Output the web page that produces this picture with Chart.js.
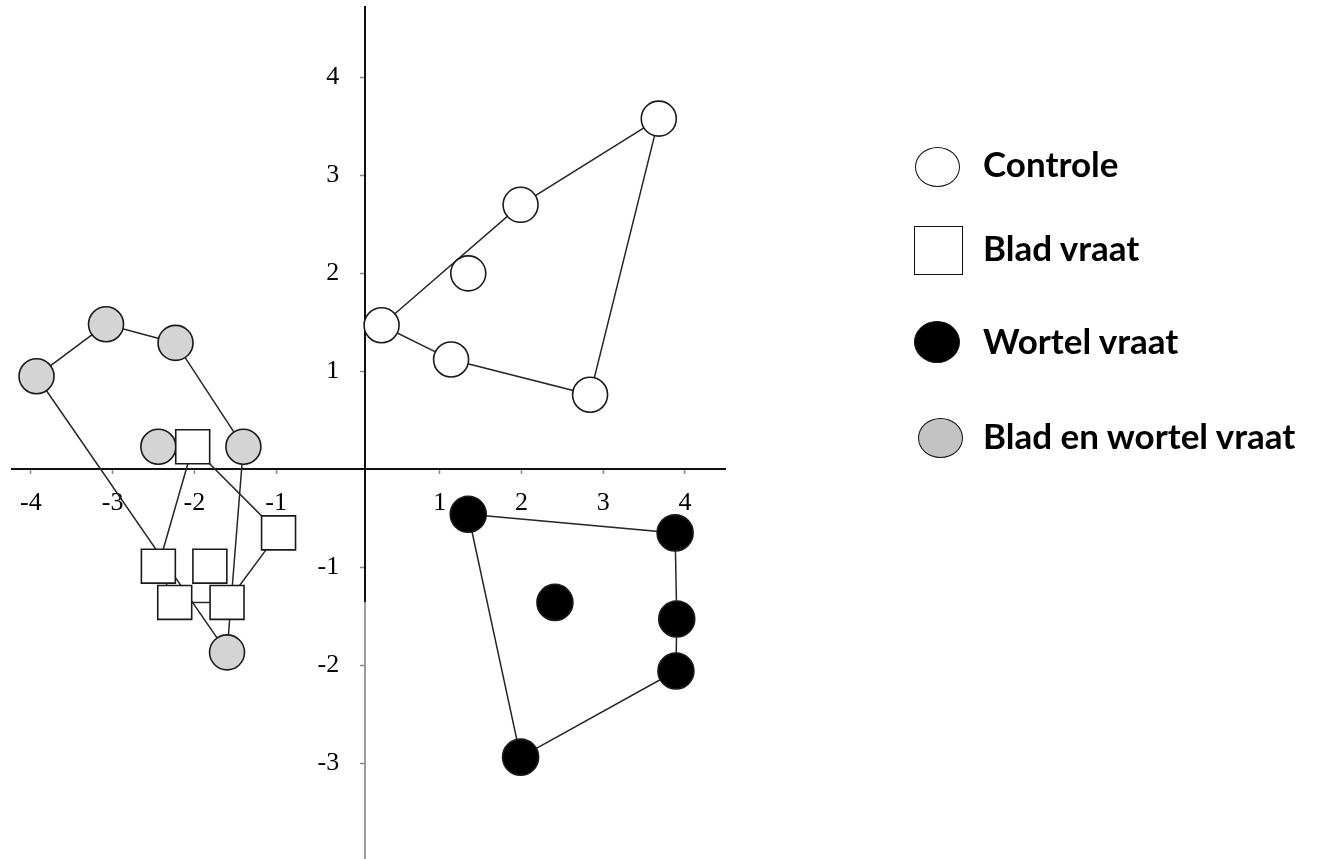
<!DOCTYPE html>
<html>
<head>
<meta charset="utf-8">
<script src="https://cdn.jsdelivr.net/npm/chart.js@4.4.1/dist/chart.umd.min.js"></script>
<style>
  html, body { margin: 0; padding: 0; background: #fff; }
  #wrap { position: relative; width: 1317px; height: 859px; overflow: hidden; }
  #plot { position: absolute; left: 0; top: 0; }
  #legend { position: absolute; left: 0; top: 0; width: 1317px; height: 859px; pointer-events: none;
            font-family: Lato, "Open Sans", sans-serif; font-weight: 700; font-size: 35px; color: #000; }
  #legend .item { position: absolute; left: 914px; height: 52px; width: 400px; }
  #legend .item .txt { position: absolute; left: 69px; top: 0; line-height: 52px; white-space: nowrap; }
  #legend .item .mk { position: absolute; box-sizing: border-box; border: 1.6px solid #111; }
  #legend .item:nth-child(1) { top: 137px; }
  #legend .item:nth-child(1) .mk { left: 1px; top: 10px; width: 45px; height: 40px; border-radius: 50%; }
  #legend .item:nth-child(2) { top: 221px; }
  #legend .item:nth-child(2) .mk { left: 0; top: 5px; width: 49px; height: 49px; }
  #legend .item:nth-child(3) { top: 314px; }
  #legend .item:nth-child(3) .mk { left: 0; top: 7px; width: 46px; height: 42px; border-radius: 50%; }
  #legend .item:nth-child(4) { top: 409px; }
  #legend .item:nth-child(4) .mk { left: 4px; top: 9px; width: 45px; height: 40px; border-radius: 50%; }
</style>
</head>
<body>
<div id="wrap">
  <canvas id="plot" width="1317" height="859"></canvas>
  <div id="legend"></div>
</div>
<script>
// Tick values shown on the two axes (no label at the origin)
const xTicks = [-4, -3, -2, -1, 1, 2, 3, 4];
const yTicks = [4, 3, 2, 1, -1, -2, -3];

// Controle
const controleX = [3.68, 1.99, 1.35, 0.29, 1.14, 2.84];
const controleY = [3.58, 2.70, 2.00, 1.47, 1.12, 0.76];
const controleHull = [3, 1, 0, 5, 4, 3];

// Blad vraat
const bladX = [-2.02, -0.97, -2.44, -1.81, -2.24, -1.60];
const bladY = [0.23, -0.65, -0.99, -0.99, -1.36, -1.36];
const bladHull = [0, 1, 5, 4, 2, 0];

// Wortel vraat
const wortelX = [1.35, 3.88, 2.41, 3.90, 3.89, 1.99];
const wortelY = [-0.46, -0.65, -1.36, -1.53, -2.06, -2.94];
const wortelHull = [0, 1, 3, 4, 5, 0];

// Blad en wortel vraat
const beideX = [-3.93, -3.08, -2.23, -1.40, -2.44, -1.60];
const beideY = [0.95, 1.48, 1.29, 0.23, 0.23, -1.87];
const beideHull = [0, 1, 2, 3, 5, 0];

const groupNames = ['Controle', 'Blad vraat', 'Wortel vraat', 'Blad en wortel vraat'];

const toPoints = (xs, ys) => xs.map((x, i) => ({ x: x, y: ys[i] }));
const toHull = (xs, ys, idx) => idx.map(i => ({ x: xs[i], y: ys[i] }));

const lineColor = '#262626';
const edgeColor = '#1a1a1a';

function markerSet(label, xs, ys, style, radius, fill, legendFill, order) {
  return {
    label: label, data: toPoints(xs, ys), order: order,
    pointStyle: style, pointRadius: radius, pointHoverRadius: radius,
    pointBackgroundColor: fill, pointBorderColor: edgeColor, pointBorderWidth: 1.6,
    showLine: false, isMarker: true, legendFill: legendFill
  };
}
function hullSet(xs, ys, idx) {
  return {
    label: '', data: toHull(xs, ys, idx), order: 10,
    showLine: true, pointRadius: 0, pointHoverRadius: 0,
    borderColor: lineColor, borderWidth: 1.5, fill: false, tension: 0, isMarker: false
  };
}

const datasets = [
  markerSet(groupNames[0], controleX, controleY, 'circle', 17.5, '#ffffff', '#ffffff', 2),
  markerSet(groupNames[1], bladX, bladY, 'rect', 24, '#ffffff', '#ffffff', 1),
  markerSet(groupNames[2], wortelX, wortelY, 'circle', 18, '#000000', '#000000', 2),
  markerSet(groupNames[3], beideX, beideY, 'circle', 17.5, '#d4d4d4', '#c3c3c3', 3),
  hullSet(controleX, controleY, controleHull),
  hullSet(bladX, bladY, bladHull),
  hullSet(wortelX, wortelY, wortelHull),
  hullSet(beideX, beideY, beideHull)
];

const canvas = document.getElementById('plot');
const ctx = canvas.getContext('2d');
// vertical axis: solid black upper part, lighter grey lower part
const yAxisShade = ctx.createLinearGradient(0, 0, 0, 859);
yAxisShade.addColorStop(0, '#111111');
yAxisShade.addColorStop(0.701, '#111111');
yAxisShade.addColorStop(0.701, '#9c9c9c');
yAxisShade.addColorStop(1, '#9c9c9c');

const noPad = s => { s.paddingLeft = 0; s.paddingRight = 0; s.paddingTop = 0; s.paddingBottom = 0; };
const tickFont = { family: '"Liberation Serif", "DejaVu Serif", serif', size: 26 };

const chart = new Chart(canvas, {
  type: 'scatter',
  data: { datasets: datasets },
  options: {
    responsive: false,
    animation: false,
    events: [],
    layout: { autoPadding: false, padding: { left: 12, right: 592, top: 7, bottom: 0 } },
    plugins: { legend: { display: false }, tooltip: { enabled: false } },
    scales: {
      x: {
        type: 'linear', min: -4.23, max: 4.49,
        position: { y: 0 },
        afterBuildTicks: s => { s.ticks = xTicks.map(v => ({ value: v })); },
        afterFit: noPad,
        grid: { drawOnChartArea: false, drawTicks: true, tickLength: 4, tickColor: '#8a8a8a', tickWidth: 1.5 },
        border: { display: true, color: '#111111', width: 2 },
        ticks: { color: '#000', font: tickFont, padding: 14, maxRotation: 0, autoSkip: false, callback: v => String(v) }
      },
      y: {
        type: 'linear', min: -3.98, max: 4.72,
        position: { x: 0.09 },
        afterBuildTicks: s => { s.ticks = yTicks.map(v => ({ value: v })); },
        afterFit: noPad,
        grid: { drawOnChartArea: false, drawTicks: true, tickLength: 4, tickColor: '#8a8a8a', tickWidth: 1.5 },
        border: { display: true, color: yAxisShade, width: 2 },
        // labels sit right-aligned on the axis line; trailing spaces keep them clear of it
        ticks: { color: '#000', font: tickFont, autoSkip: false, callback: v => String(v) + '    ' }
      }
    }
  }
});

// Legend built from the marker datasets
const legendEl = document.getElementById('legend');
chart.data.datasets.filter(d => d.isMarker).forEach(d => {
  const item = document.createElement('div');
  item.className = 'item';
  const mk = document.createElement('div');
  mk.className = 'mk';
  mk.style.background = d.legendFill;
  const txt = document.createElement('div');
  txt.className = 'txt';
  txt.textContent = d.label;
  item.appendChild(mk);
  item.appendChild(txt);
  legendEl.appendChild(item);
});
</script>
</body>
</html>
